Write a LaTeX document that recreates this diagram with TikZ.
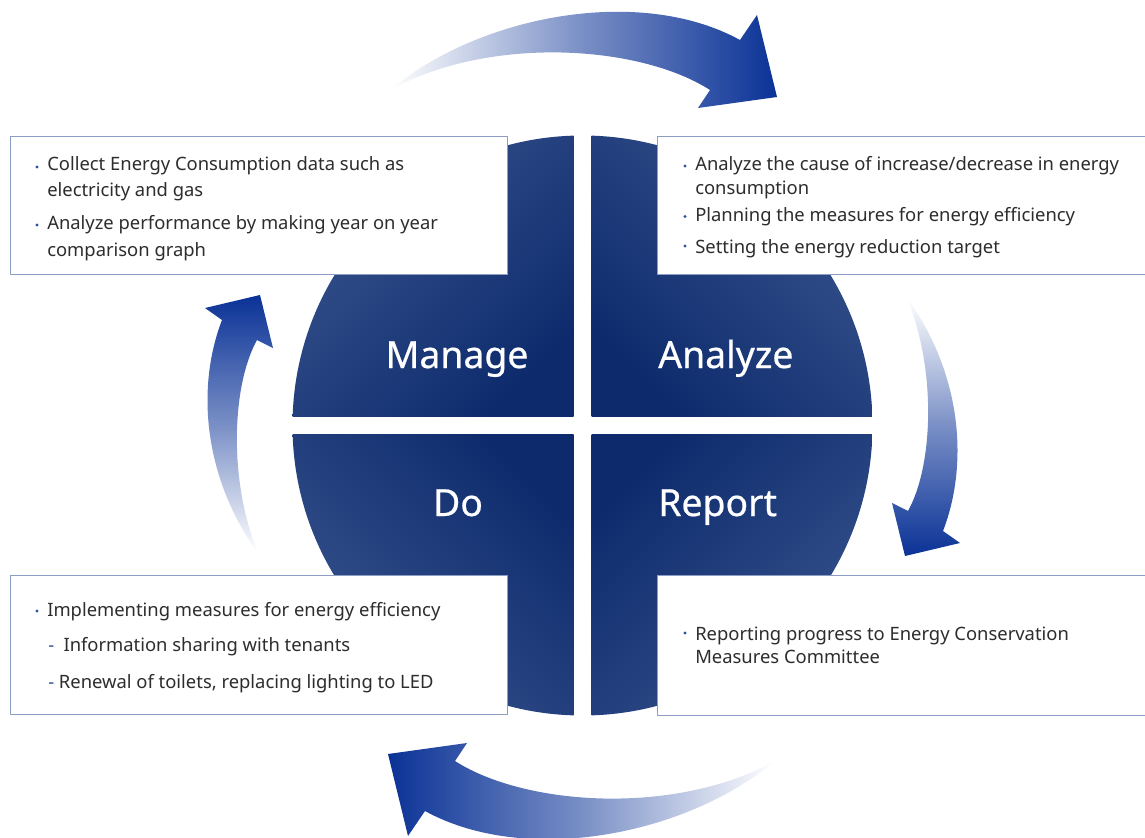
\documentclass[tikz,border=0pt]{standalone}
\usepackage{fontspec}
\setmainfont{Noto Sans}
\newfontface\quadface{Noto Sans}[FakeBold=0.6]
\definecolor{quadlight}{RGB}{56,84,142}
\definecolor{quaddark}{RGB}{13,42,108}
\definecolor{arrowblue}{RGB}{10,50,150}
\definecolor{boxline}{RGB}{140,156,194}
\definecolor{bodytxt}{RGB}{45,45,45}
\definecolor{dotblue}{RGB}{42,82,164}
\newcommand\bodyfont{\fontsize{13.8pt}{16pt}\selectfont}
\newcommand\quadfont{\quadface\fontsize{28pt}{32pt}\selectfont}
\tikzset{
  infobox/.style={draw=boxline,line width=1.1pt,fill=white,anchor=north west,inner sep=0pt},
  bodyline/.style={anchor=base west,inner sep=0pt,font=\bodyfont,text=bodytxt},
  quadlabel/.style={anchor=base,inner sep=0pt,font=\quadfont,text=white},
  quadfill/.style={top color=quadlight,bottom color=quaddark,shading angle=#1}
}
\begin{document}
\begin{tikzpicture}[x=0.75pt,y=-0.75pt,line join=round]
  \useasboundingbox (0,0) rectangle (1145,838);
  \fill[white] (0,0) rectangle (1145,838);

  % cycle arrows
  \shade[left color=white,right color=arrowblue,middle color=arrowblue!55!white]
    (390,90) .. controls (480,15) and (640,-15) .. (740,40)
    -- (757,15) -- (777,97) -- (698,108) -- (710,90)
    .. controls (640,45) and (490,35) .. (390,90) -- cycle;
  \shade[left color=arrowblue,right color=white,middle color=arrowblue!55!white]
    (775,761) .. controls (685,836) and (525,866) .. (425,811)
    -- (408,836) -- (388,754) -- (467,743) -- (455,761)
    .. controls (525,806) and (675,816) .. (775,761) -- cycle;
  \shade[bottom color=white,top color=arrowblue,middle color=arrowblue!55!white]
    (258,553) .. controls (205,480) and (195,390) .. (222,320)
    -- (205,308) -- (260,295) -- (273,348) -- (257,340)
    .. controls (232,385) and (228,480) .. (258,553) -- cycle;
  \shade[top color=white,bottom color=arrowblue,middle color=arrowblue!55!white]
    (907,298) .. controls (960,371) and (970,461) .. (943,531)
    -- (960,543) -- (905,556) -- (892,503) -- (908,511)
    .. controls (933,466) and (937,371) .. (907,298) -- cycle;

  % the four quarters
  \begin{scope}
    \clip (582.5,425.5) circle (290);
    \shade[quadfill=45] (292.5,135.5) rectangle (573.5,416.5);
    \shade[quadfill=-45] (591.5,135.5) rectangle (872.5,416.5);
    \shade[quadfill=135] (292.5,434.5) rectangle (573.5,715.5);
    \shade[quadfill=-135] (591.5,434.5) rectangle (872.5,715.5);
  \end{scope}
  \node[quadlabel] (manage) at (457,368) {Manage};
  \node[quadlabel,anchor=base west] (analyze) at (658,368) {Analyze};
  \node[quadlabel] (do) at (458,516) {Do};
  \node[quadlabel,anchor=base west] (report) at (658,516) {Report};

  % text boxes
  \node[infobox,minimum width=372.75pt,minimum height=103.5pt] (mgbox) at (10,136) {};
  \node[infobox,minimum width=372pt,minimum height=103.5pt] (anbox) at (657,136) {};
  \node[infobox,minimum width=372.75pt,minimum height=104.25pt] (dobox) at (10,575) {};
  \node[infobox,minimum width=372pt,minimum height=105pt] (rpbox) at (657,575) {};

  \node[bodyline] (mg1) at (47,171) {Collect Energy Consumption data such as};
  \node[bodyline] (mg2) at (47,196) {electricity and gas};
  \node[bodyline] (mg3) at (47,229.5) {Analyze performance by making year on year};
  \node[bodyline] (mg4) at (47,256) {comparison graph};
  \fill[dotblue] (37,167) circle (1.7);
  \fill[dotblue] (37,225) circle (1.7);

  \node[bodyline] (an1) at (695,171) {Analyze the cause of increase/decrease in energy};
  \node[bodyline] (an2) at (695,195) {consumption};
  \node[bodyline] (an3) at (695,221) {Planning the measures for energy efficiency};
  \node[bodyline] (an4) at (695,253) {Setting the energy reduction target};
  \fill[dotblue] (685,166) circle (1.7);
  \fill[dotblue] (685,216.5) circle (1.7);
  \fill[dotblue] (685,246) circle (1.7);

  \node[bodyline] (do1) at (47,616) {Implementing measures for energy efficiency};
  \node[bodyline] (do2) at (48,651) {{\color{dotblue}-}\hspace{7pt}Information sharing with tenants};
  \node[bodyline] (do3) at (48,688) {{\color{dotblue}-} Renewal of toilets, replacing lighting to LED};
  \fill[dotblue] (37,611) circle (1.7);

  \node[bodyline] (rp1) at (695,640) {Reporting progress to Energy Conservation};
  \node[bodyline] (rp2) at (695,663) {Measures Committee};
  \fill[dotblue] (685,633) circle (1.7);
\end{tikzpicture}
\end{document}
